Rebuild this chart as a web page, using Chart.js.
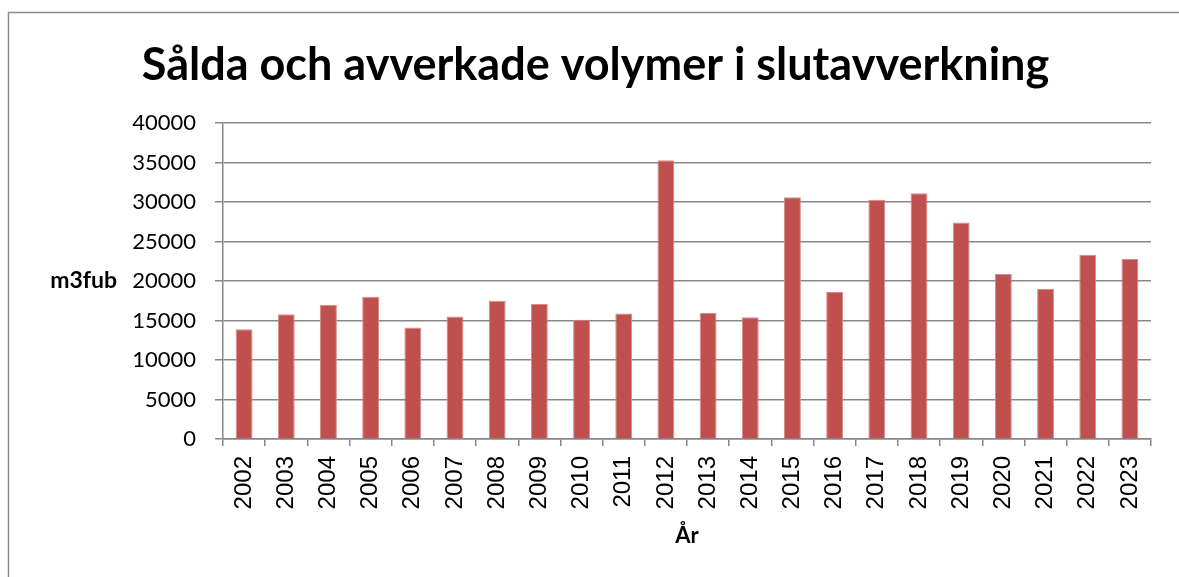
<!DOCTYPE html>
<html>
<head>
<meta charset="utf-8">
<script src="https://cdn.jsdelivr.net/npm/chart.js@4"></script>
<style>
  html, body { margin: 0; padding: 0; background: #fff; }
  #wrap { width: 1179px; height: 577px; }
</style>
</head>
<body>
<div id="wrap"><canvas id="myChart" width="1179" height="577"></canvas></div>
<script>
// data
const years = ['2002','2003','2004','2005','2006','2007','2008','2009','2010','2011','2012',
               '2013','2014','2015','2016','2017','2018','2019','2020','2021','2022','2023'];
const volumes = [13900, 15800, 17000, 18000, 14100, 15500, 17500, 17100, 15100, 15900, 35300,
                 15950, 15400, 30600, 18600, 30300, 31100, 27400, 20900, 19000, 23300, 22800];
const chartTitle = 'Sålda och avverkade volymer i slutavverkning';
const yTitle = 'm3fub';
const xTitle = 'År';

const gridColor = '#878787';

// outer frame + horizontal y-axis title
const extras = {
  id: 'extras',
  beforeDraw(chart) {
    const c = chart.ctx;
    c.save();
    c.fillStyle = '#fff';
    c.fillRect(0, 0, chart.width, chart.height);
    c.strokeStyle = '#8c8c8c';
    c.lineWidth = 1.5;
    c.strokeRect(8.5, 12.5, chart.width + 20, chart.height + 20);
    c.restore();
  },
  afterDraw(chart) {
    const c = chart.ctx;
    const area = chart.chartArea;
    c.save();
    c.font = 'bold 23px Lato';
    c.fillStyle = '#000';
    c.textAlign = 'right';
    c.textBaseline = 'middle';
    c.fillText(yTitle, 117, (area.top + area.bottom) / 2);
    c.restore();
  }
};

const ctx = document.getElementById('myChart');
const myChart = new Chart(ctx, {
  type: 'bar',
  data: {
    labels: years,
    datasets: [{
      label: 'Volym',
      data: volumes,
      backgroundColor: '#C0504D',
      borderColor: '#D98A88',
      borderWidth: 1,
      barPercentage: 0.4,
      categoryPercentage: 1.0
    }]
  },
  options: {
    responsive: false,
    animation: false,
    layout: { padding: { left: 40, right: 28, top: 0, bottom: 0 } },
    plugins: {
      legend: { display: false },
      tooltip: { enabled: false },
      title: {
        display: true,
        text: chartTitle,
        color: '#000',
        font: { family: 'Lato', size: 45, weight: 'bold' },
        padding: { top: 38, bottom: 31 }
      }
    },
    scales: {
      x: {
        grid: { drawOnChartArea: false, drawTicks: true, tickLength: 7, color: gridColor, lineWidth: 1.5 },
        border: { color: gridColor, width: 1.5 },
        ticks: {
          color: '#000',
          font: { family: 'Liberation Sans', size: 24 },
          minRotation: 90, maxRotation: 90,
          padding: 10
        },
        title: {
          display: true,
          text: xTitle,
          color: '#000',
          font: { family: 'Lato', size: 22, weight: 'bold' },
          padding: { top: 0, bottom: 28 }
        },
        afterFit(scale) { scale.height = 138; }
      },
      y: {
        min: 0,
        max: 40000,
        grid: { color: gridColor, lineWidth: 1.5, tickLength: 8 },
        border: { color: gridColor, width: 1.5 },
        ticks: {
          stepSize: 5000,
          color: '#000',
          font: { family: 'Lato', size: 22 },
          padding: 19,
          callback: v => String(v)
        },
        afterFit(scale) { scale.width = 183; }
      }
    }
  },
  plugins: [extras]
});
</script>
</body>
</html>
